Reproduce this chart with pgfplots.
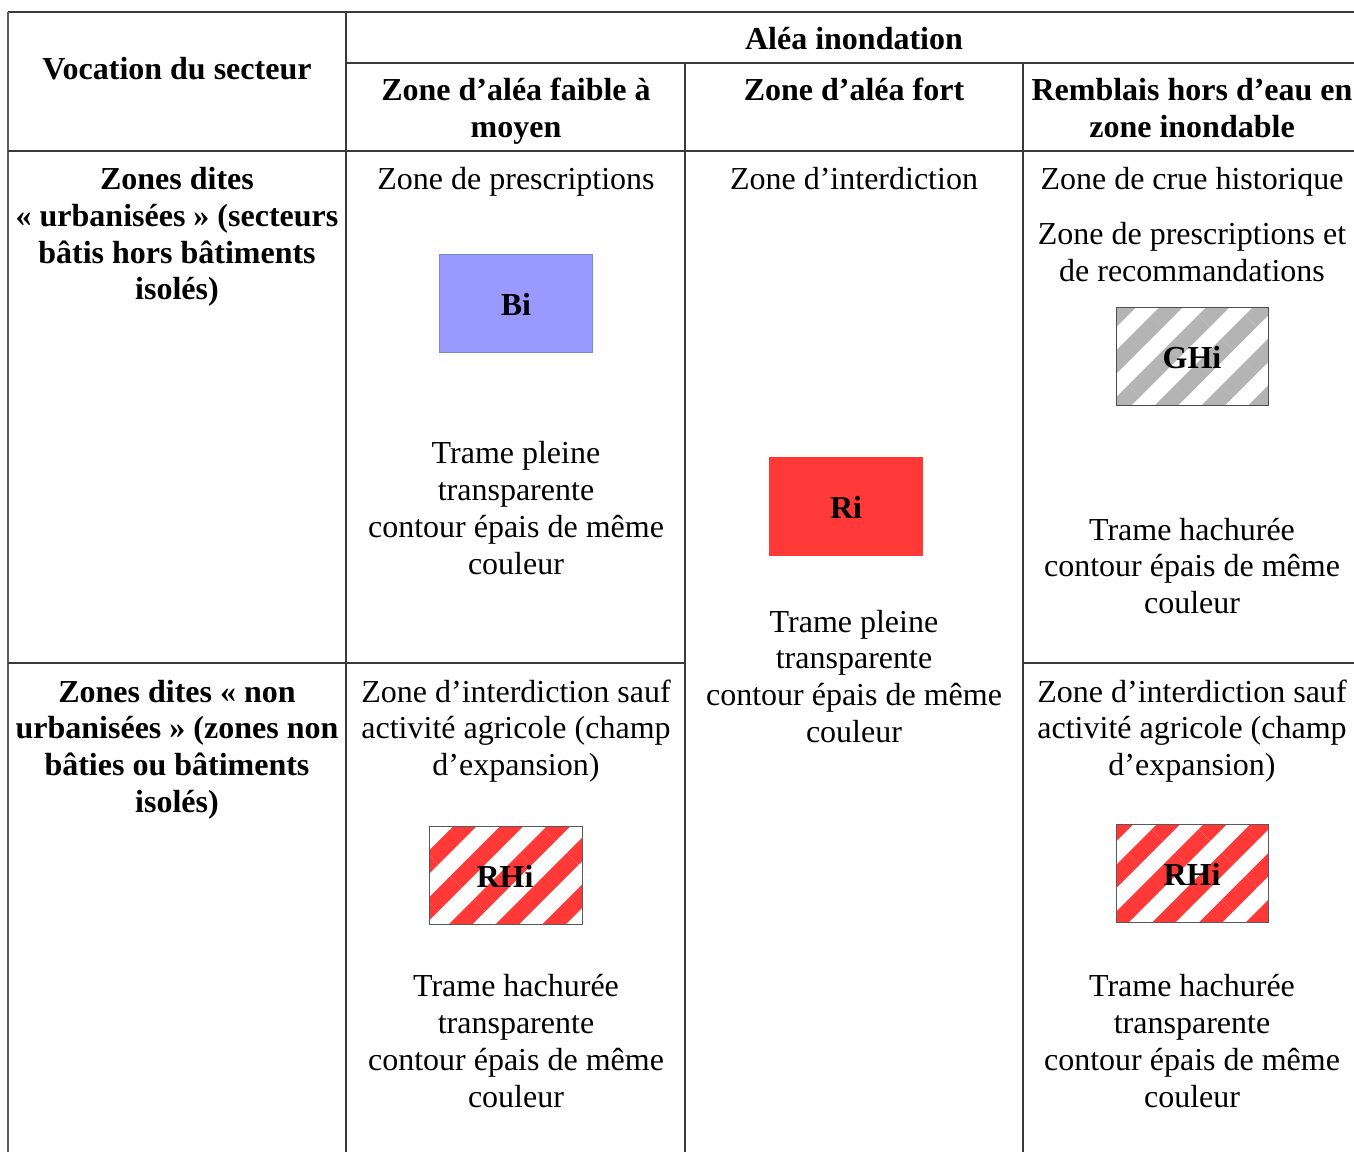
\documentclass[border=0pt]{standalone}
\usepackage{pgfplots}
\pgfplotsset{compat=1.18}
\usepackage{fontspec}
\setmainfont{Liberation Serif}
\usetikzlibrary{patterns.meta}
\definecolor{bicol}{HTML}{9999FF}
\definecolor{bibord}{HTML}{7A8ACC}
\definecolor{ricol}{HTML}{FF3838}
\definecolor{ghcol}{HTML}{B4B4B4}
\definecolor{gridc}{HTML}{3A3A3A}
\newcommand\fz{\fontsize{12}{14}\selectfont}
\newcommand\T[3]{\node[anchor=base, inner sep=0pt, font=\fz] at (axis cs:#1,#2+2) {#3};}
\newcommand\TB[3]{\node[anchor=base, inner sep=0pt, font=\fz\bfseries] at (axis cs:#1,#2+2) {#3};}
\begin{document}
\begin{tikzpicture}
\begin{axis}[x=0.375pt, y=0.375pt, y dir=reverse,
  xmin=0, xmax=1354, ymin=0, ymax=1151,
  hide axis, clip=true]
\path (axis cs:0,0) rectangle (axis cs:1354,1151);
% swatches
\addplot[fill=bicol, draw=bibord, line width=0.3pt] coordinates {(439,254) (592,254) (592,352) (439,352)} -- cycle;
\addplot[fill=ricol, draw=ricol, line width=0.3pt] coordinates {(769,457) (922,457) (922,555) (769,555)} -- cycle;
\addplot[fill=white, draw=none] coordinates {(1116,307) (1268,307) (1268,405) (1116,405)} -- cycle;
\addplot[pattern={Lines[angle=45,distance=12.4pt,line width=6.2pt]}, pattern color=ghcol, draw=black!70, line width=0.35pt] coordinates {(1116,307) (1268,307) (1268,405) (1116,405)} -- cycle;
\addplot[pattern={Lines[angle=45,distance=12.4pt,line width=6.2pt]}, pattern color=ricol, draw=black!65, line width=0.35pt] coordinates {(429,826) (582,826) (582,924) (429,924)} -- cycle;
\addplot[pattern={Lines[angle=45,distance=12.4pt,line width=6.2pt]}, pattern color=ricol, draw=black!65, line width=0.35pt] coordinates {(1116,824) (1268,824) (1268,922) (1116,922)} -- cycle;
% grid lines
\draw[gridc, line width=0.55pt] (axis cs:8,12) -- (axis cs:1360,12);
\draw[gridc!80, line width=0.6pt] (axis cs:8,12) -- (axis cs:8,1160);
\draw[gridc, line width=0.55pt] (axis cs:346,12) -- (axis cs:346,1160);
\draw[gridc, line width=0.55pt] (axis cs:685,63) -- (axis cs:685,1160);
\draw[gridc, line width=0.55pt] (axis cs:1023,63) -- (axis cs:1023,1160);
\draw[gridc, line width=0.55pt] (axis cs:346,63) -- (axis cs:1360,63);
\draw[gridc, line width=0.55pt] (axis cs:8,151) -- (axis cs:1360,151);
\draw[gridc, line width=0.55pt] (axis cs:8,663) -- (axis cs:685,663);
\draw[gridc, line width=0.55pt] (axis cs:1023,663) -- (axis cs:1360,663);
% headers
\TB{177}{78}{Vocation du secteur}
\TB{854}{48}{Aléa inondation}
\TB{516}{99}{Zone d’aléa faible à}
\TB{516}{136}{moyen}
\TB{854}{99}{Zone d’aléa fort}
\TB{1192}{99}{Remblais hors d’eau en}
\TB{1192}{136}{zone inondable}
% row headers
\TB{177}{188}{Zones dites}
\TB{177}{225}{«~urbanisées~» (secteurs}
\TB{177}{261}{bâtis hors bâtiments}
\TB{177}{298}{isolés)}
\TB{177}{700}{Zones dites «~non}
\TB{177}{736}{urbanisées~» (zones non}
\TB{177}{773}{bâties ou bâtiments}
\TB{177}{810}{isolés)}
% col 1 row 1
\T{516}{188}{Zone de prescriptions}
\TB{516}{313}{Bi}
\T{516}{461}{Trame pleine}
\T{516}{498}{transparente}
\T{516}{535}{contour épais de même}
\T{516}{572}{couleur}
% col 2
\T{854}{188}{Zone d’interdiction}
\TB{846}{516}{Ri}
\T{854}{630}{Trame pleine}
\T{854}{666}{transparente}
\T{854}{703}{contour épais de même}
\T{854}{740}{couleur}
% col 3 row 1
\T{1192}{188}{Zone de crue historique}
\T{1192}{243}{Zone de prescriptions et}
\T{1192}{280}{de recommandations}
\TB{1192}{366}{GHi}
\T{1192}{538}{Trame hachurée}
\T{1192}{574}{contour épais de même}
\T{1192}{611}{couleur}
% col 1 row 2
\T{516}{700}{Zone d’interdiction sauf}
\T{516}{736}{activité agricole (champ}
\T{516}{773}{d’expansion)}
\TB{505}{885}{RHi}
\T{516}{994}{Trame hachurée}
\T{516}{1031}{transparente}
\T{516}{1068}{contour épais de même}
\T{516}{1105}{couleur}
% col 3 row 2
\T{1192}{700}{Zone d’interdiction sauf}
\T{1192}{736}{activité agricole (champ}
\T{1192}{773}{d’expansion)}
\TB{1192}{883}{RHi}
\T{1192}{994}{Trame hachurée}
\T{1192}{1031}{transparente}
\T{1192}{1068}{contour épais de même}
\T{1192}{1105}{couleur}
\end{axis}
\end{tikzpicture}
\end{document}
